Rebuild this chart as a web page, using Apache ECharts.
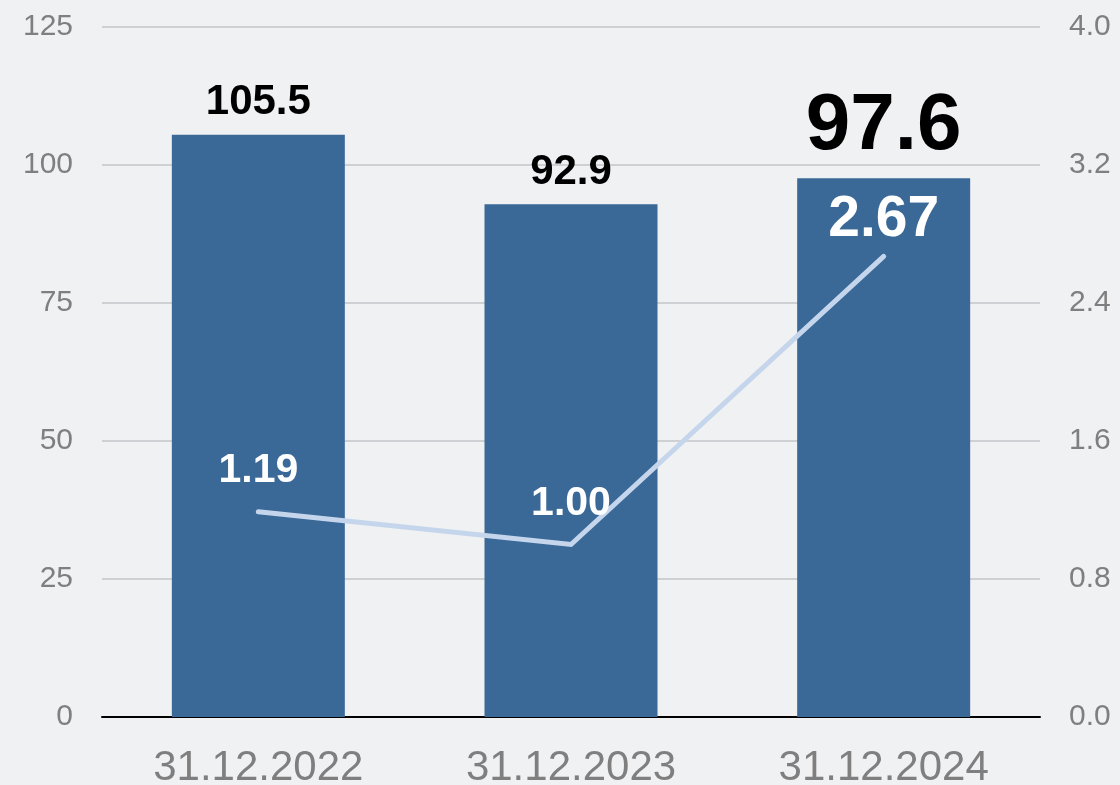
<!DOCTYPE html>
<html><head><meta charset="utf-8">
<script src="https://cdn.jsdelivr.net/npm/echarts@6/dist/echarts.min.js"></script>
<style>html,body{margin:0;padding:0;background:#f0f1f3}#c{width:1120px;height:785px}</style>
</head><body><div id="c"></div>
<script>
const categories = ['31.12.2022', '31.12.2023', '31.12.2024'];
const barValues = [105.5, 92.9, 97.6];
const lineValues = [1.19, 1.00, 2.67];
const leftTicks = [0, 25, 50, 75, 100, 125];
const rightTicks = ['0.0', '0.8', '1.6', '2.4', '3.2', '4.0'];

const font = '"Liberation Sans", Arial, sans-serif';
const chart = echarts.init(document.getElementById('c'));
const last = barValues.length - 1;
chart.setOption({
  backgroundColor: '#f0f1f3',
  animation: false,
  grid: { left: 102, right: 80, top: 27, bottom: 68, outerBoundsMode: 'none', containLabel: false },
  xAxis: {
    type: 'category', data: categories,
    axisLine: { lineStyle: { color: '#000', width: 2 } },
    axisTick: { show: false },
    axisLabel: { color: '#7f7f7f', fontSize: 42, fontFamily: font, margin: 30 }
  },
  yAxis: [{
    type: 'value', min: 0, max: 125, interval: 25,
    axisLine: { show: false }, axisTick: { show: false },
    splitLine: { lineStyle: { color: '#cfd0d3', width: 2 } },
    axisLabel: { color: '#7f7f7f', fontSize: 30, fontFamily: font, margin: 29,
      formatter: v => String(leftTicks[Math.round(v / 25)]) }
  }, {
    type: 'value', min: 0, max: 4, interval: 0.8,
    axisLine: { show: false }, axisTick: { show: false }, splitLine: { show: false },
    axisLabel: { color: '#7f7f7f', fontSize: 30, fontFamily: font, margin: 29,
      formatter: v => rightTicks[Math.round(v / 0.8)] }
  }],
  series: [{
    type: 'bar', yAxisIndex: 0, barWidth: 173,
    itemStyle: { color: '#3a6998' },
    data: barValues.map((v, i) => i === last ? {
      value: v, label: { fontSize: 80, distance: 11 }
    } : v),
    label: { show: true, position: 'top', color: '#000', fontWeight: 'bold',
      fontSize: 42, fontFamily: font, distance: 11, formatter: p => p.value.toFixed(1) }
  }, {
    type: 'line', yAxisIndex: 1, z: 5,
    lineStyle: { color: '#c5d6ec', width: 5, cap: 'round', join: 'miter' },
    symbol: 'circle', symbolSize: 1, showSymbol: true,
    itemStyle: { color: '#c5d6ec' },
    data: lineValues.map((v, i) => i === last ? {
      value: v, label: { fontSize: 57, distance: 7 }
    } : v),
    label: { show: true, position: 'top', color: '#fff', fontWeight: 'bold',
      fontSize: 41, fontFamily: font, distance: 20, formatter: p => p.value.toFixed(2) }
  }]
});
</script></body></html>
